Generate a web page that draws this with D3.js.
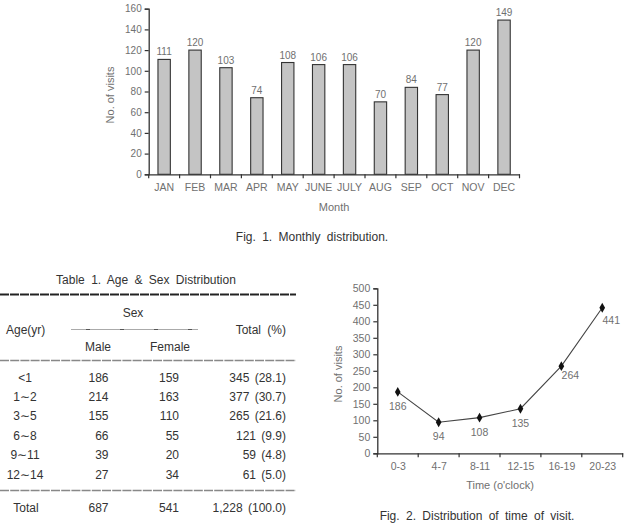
<!DOCTYPE html>
<html><head><meta charset="utf-8">
<script src="https://cdn.jsdelivr.net/npm/d3@7"></script>
<style>
body{margin:0;background:#fff;}
svg{display:block;font-family:"Liberation Sans",Arial,sans-serif;}
</style></head>
<body>
<svg id="c" width="627" height="523"></svg>
<script>
// ---- Data ----
const months = ["JAN","FEB","MAR","APR","MAY","JUNE","JULY","AUG","SEP","OCT","NOV","DEC"];
const monthVisits = [111,120,103,74,108,106,106,70,84,77,120,149];
const monthTicks = [0,20,40,60,80,100,120,140,160];

const timeSlots = ["0-3","4-7","8-11","12-15","16-19","20-23"];
const timeVisits = [186,94,108,135,264,441];
const timeTicks = [0,50,100,150,200,250,300,350,400,450,500];

const ageGroups = ["<1","1\u223C2","3\u223C5","6\u223C8","9\u223C11","12\u223C14"];
const maleCounts = [186,214,155,66,39,27];
const femaleCounts = [159,163,110,55,20,34];
const totalCounts = [345,377,265,121,59,61];
const totalPct = ["28.1","30.7","21.6","9.9","4.8","5.0"];
const totalRow = ["Total","687","541","1,228 (100.0)"];

const svg = d3.select("#c");
const axisCol = "#333", labCol = "#707070", txtCol = "#333";

// ---- Fig 1: bar chart ----
{
  const x0 = 148.7, x1 = 519.5, yB = 174.3, yT = 8.7;
  const x = d3.scaleBand().domain(months).range([x0, x1]).paddingInner(0.6).paddingOuter(0.3);
  const y = d3.scaleLinear().domain([0,160]).range([yB, yT]);
  const g = svg.append("g");
  const ya = g.append("g").attr("transform",`translate(${x0},0)`)
    .call(d3.axisLeft(y).tickValues(monthTicks).tickSize(4).tickPadding(3));
  ya.select(".domain").attr("stroke",axisCol).attr("stroke-width",1.3);
  ya.selectAll(".tick line").attr("stroke",axisCol).attr("stroke-width",1.2);
  ya.selectAll(".tick text").attr("fill",labCol).style("font-size","10px").style("font-family","inherit");
  const xa = g.append("g").attr("transform",`translate(0,${yB})`)
    .call(d3.axisBottom(x).tickSize(0).tickPadding(9));
  xa.select(".domain").attr("stroke",axisCol).attr("stroke-width",1.3);
  xa.selectAll(".tick text").attr("fill",labCol).style("font-size","10.5px").style("font-family","inherit");
  const step = x.step();
  const bounds = d3.range(months.length+1).map(i => x0 + i*step);
  g.selectAll("line.bt").data(bounds).join("line")
    .attr("x1",d=>d).attr("x2",d=>d).attr("y1",yB).attr("y2",yB+4)
    .attr("stroke",axisCol).attr("stroke-width",1.2);
  g.selectAll("rect.bar").data(monthVisits).join("rect")
    .attr("x",(d,i)=>x(months[i])).attr("width",x.bandwidth())
    .attr("y",d=>y(d)).attr("height",d=>yB-y(d))
    .attr("fill","#c4c4c4").attr("stroke","#333").attr("stroke-width",1.1);
  g.selectAll("text.vl").data(monthVisits).join("text")
    .attr("x",(d,i)=>x(months[i])+x.bandwidth()/2).attr("y",d=>y(d)-4)
    .attr("text-anchor","middle").attr("fill",labCol).style("font-size","10px").text(d=>d);
  g.append("text").attr("x",(x0+x1)/2).attr("y",210.5).attr("text-anchor","middle")
    .attr("fill",labCol).style("font-size","11px").text("Month");
  g.append("text").attr("transform",`translate(114,95) rotate(-90)`).attr("text-anchor","middle")
    .attr("fill",labCol).style("font-size","11px").text("No. of visits");
  svg.append("text").attr("x",312).attr("y",241).attr("text-anchor","middle")
    .attr("fill",txtCol).style("font-size","12px").style("word-spacing","3px").text("Fig. 1. Monthly distribution.");
}

// ---- Table 1 ----
{
  const g = svg.append("g").attr("fill",txtCol).style("font-size","12px");
  g.append("text").attr("x",146).attr("y",284).attr("text-anchor","middle").style("word-spacing","3px")
    .text("Table 1. Age & Sex Distribution");
  const rule = (yy, w, col, dash) => g.append("line").attr("x1",0).attr("x2",296).attr("y1",yy).attr("y2",yy)
    .attr("stroke",col).attr("stroke-width",w).attr("stroke-dasharray",dash);
  rule(294.5, 2.2, "#222", "9,1");
  g.append("line").attr("x1",71).attr("x2",198).attr("y1",329.5).attr("y2",329.5).attr("stroke","#aaa").attr("stroke-width",1.2);
  g.append("line").attr("x1",71).attr("x2",198).attr("y1",329.5).attr("y2",329.5).attr("stroke","#555").attr("stroke-width",1.2).attr("stroke-dasharray","0,15,4,15");
  rule(360.5, 1.5, "#888", "9,1.2");
  rule(490.5, 1.5, "#888", "9,1.2");
  g.append("text").attr("x",133).attr("y",317).attr("text-anchor","middle").text("Sex");
  g.append("text").attr("x",6).attr("y",334).text("Age(yr)");
  g.append("text").attr("x",286).attr("y",334).attr("text-anchor","end").style("word-spacing","3px").text("Total (%)");
  g.append("text").attr("x",98).attr("y",350.5).attr("text-anchor","middle").text("Male");
  g.append("text").attr("x",170).attr("y",350.5).attr("text-anchor","middle").text("Female");
  const rowY = d3.scaleLinear().domain([0,5]).range([381.5,478.5]);
  ageGroups.forEach((a,i)=>{
    const yy = rowY(i);
    g.append("text").attr("x",25).attr("y",yy).attr("text-anchor","middle").text(a);
    g.append("text").attr("x",108.5).attr("y",yy).attr("text-anchor","end").text(maleCounts[i]);
    g.append("text").attr("x",179).attr("y",yy).attr("text-anchor","end").text(femaleCounts[i]);
    g.append("text").attr("x",286).attr("y",yy).attr("text-anchor","end").style("word-spacing","2px")
      .text(`${totalCounts[i]} (${totalPct[i]})`);
  });
  g.append("text").attr("x",26).attr("y",511.5).attr("text-anchor","middle").text(totalRow[0]);
  g.append("text").attr("x",108.5).attr("y",511.5).attr("text-anchor","end").text(totalRow[1]);
  g.append("text").attr("x",179).attr("y",511.5).attr("text-anchor","end").text(totalRow[2]);
  g.append("text").attr("x",286).attr("y",511.5).attr("text-anchor","end").style("word-spacing","2px").text(totalRow[3]);
}

// ---- Fig 2: line chart ----
{
  const x0 = 377.3, x1 = 622.7, yB = 453.3, yT = 288.3;
  const x = d3.scalePoint().domain(timeSlots).range([x0, x1]).padding(0.5);
  const y = d3.scaleLinear().domain([0,500]).range([yB, yT]);
  const g = svg.append("g");
  const ya = g.append("g").attr("transform",`translate(${x0},0)`)
    .call(d3.axisLeft(y).tickValues(timeTicks).tickSize(4).tickPadding(3));
  ya.select(".domain").attr("stroke",axisCol).attr("stroke-width",1.3);
  ya.selectAll(".tick line").attr("stroke",axisCol).attr("stroke-width",1.2);
  ya.selectAll(".tick text").attr("fill",labCol).style("font-size","10.5px").style("font-family","inherit");
  const xa = g.append("g").attr("transform",`translate(0,${yB})`)
    .call(d3.axisBottom(x).tickSize(0).tickPadding(9));
  xa.select(".domain").attr("stroke",axisCol).attr("stroke-width",1.3);
  xa.selectAll(".tick text").attr("fill",labCol).style("font-size","10.5px").style("font-family","inherit");
  const step = x.step();
  const bounds = d3.range(timeSlots.length+1).map(i => x0 + i*step);
  g.selectAll("line.bt").data(bounds).join("line")
    .attr("x1",d=>d).attr("x2",d=>d).attr("y1",yB).attr("y2",yB+4)
    .attr("stroke",axisCol).attr("stroke-width",1.2);
  const line = d3.line().x((d,i)=>x(timeSlots[i])).y(d=>y(d));
  g.append("path").datum(timeVisits).attr("d",line).attr("fill","none").attr("stroke","#444").attr("stroke-width",1.1);
  g.selectAll("path.pt").data(timeVisits).join("path")
    .attr("transform",(d,i)=>`translate(${x(timeSlots[i])},${y(d)})`)
    .attr("d",d3.symbol(d3.symbolDiamond,28)).attr("fill","#111");
  g.selectAll("text.vl").data(timeVisits).join("text")
    .attr("x",(d,i)=>x(timeSlots[i]) + (i>=4 ? 9 : 0))
    .attr("y",(d,i)=>y(d) + (i>=5 ? 16 : (i==4 ? 13 : 18)))
    .attr("text-anchor","middle").attr("fill",labCol).style("font-size","10.5px").text(d=>d);
  g.append("text").attr("x",(x0+x1)/2).attr("y",489).attr("text-anchor","middle")
    .attr("fill",labCol).style("font-size","11px").text("Time (o'clock)");
  g.append("text").attr("transform",`translate(342,374) rotate(-90)`).attr("text-anchor","middle")
    .attr("fill",labCol).style("font-size","11px").text("No. of visits");
  svg.append("text").attr("x",477).attr("y",519.5).attr("text-anchor","middle")
    .attr("fill",txtCol).style("font-size","12px").style("word-spacing","3px").text("Fig. 2. Distribution of time of visit.");
}
</script>
</body></html>
